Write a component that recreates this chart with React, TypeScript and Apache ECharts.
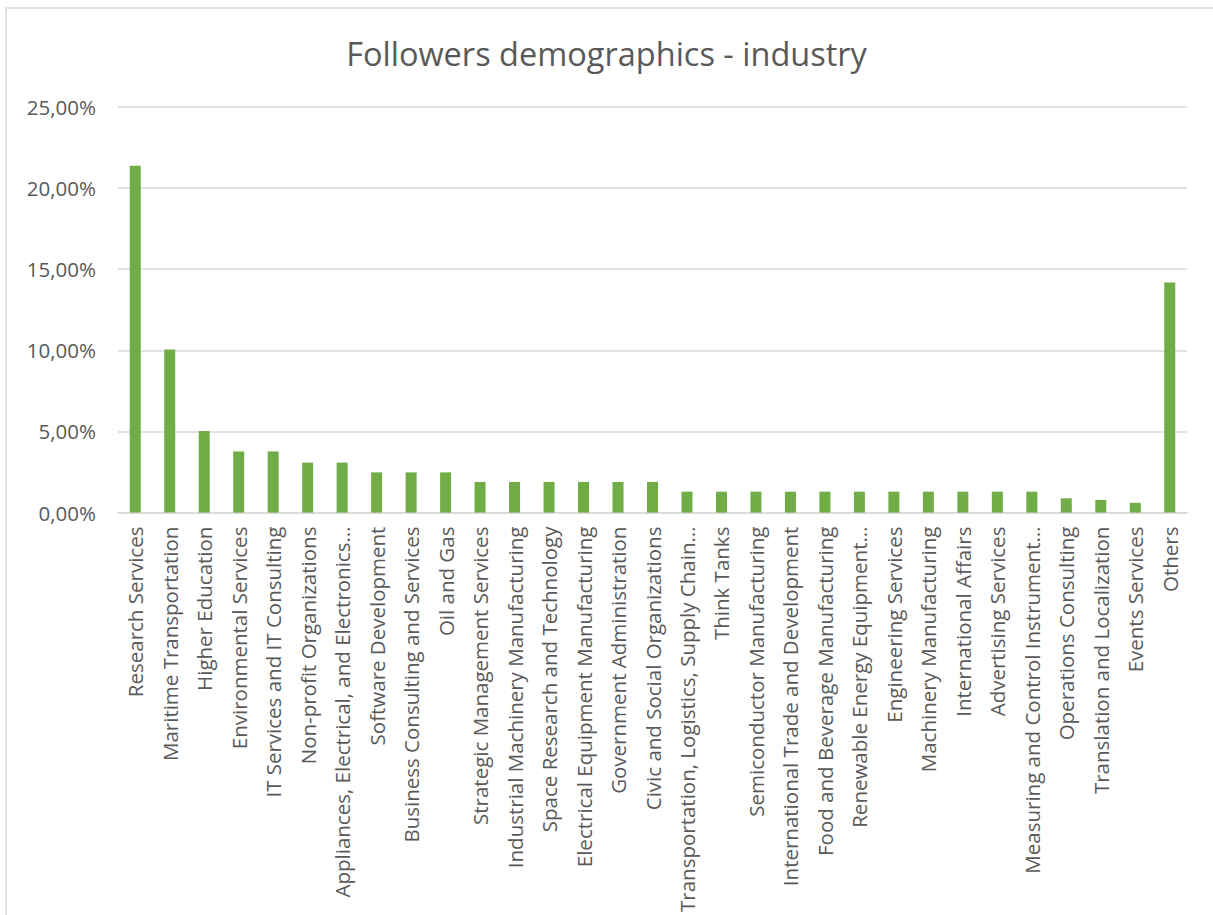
import React, { useEffect, useRef } from "react";
import * as echarts from "echarts";

const categories: string[] = [
  "Research Services",
  "Maritime Transportation",
  "Higher Education",
  "Environmental Services",
  "IT Services and IT Consulting",
  "Non-profit Organizations",
  "Appliances, Electrical, and Electronics…",
  "Software Development",
  "Business Consulting and Services",
  "Oil and Gas",
  "Strategic Management Services",
  "Industrial Machinery Manufacturing",
  "Space Research and Technology",
  "Electrical Equipment Manufacturing",
  "Government Administration",
  "Civic and Social Organizations",
  "Transportation, Logistics, Supply Chain…",
  "Think Tanks",
  "Semiconductor Manufacturing",
  "International Trade and Development",
  "Food and Beverage Manufacturing",
  "Renewable Energy Equipment…",
  "Engineering Services",
  "Machinery Manufacturing",
  "International Affairs",
  "Advertising Services",
  "Measuring and Control Instrument…",
  "Operations Consulting",
  "Translation and Localization",
  "Events Services",
  "Others",
];

const shares: number[] = [
  21.38, 10.06, 5.03, 3.77, 3.77, 3.08, 3.08, 2.48, 2.48, 2.48, 1.89, 1.89,
  1.89, 1.89, 1.89, 1.89, 1.29, 1.29, 1.29, 1.29, 1.29, 1.29, 1.29, 1.29, 1.29,
  1.29, 1.29, 0.88, 0.78, 0.6, 14.18,
];

const yTicks = { min: 0, max: 25, interval: 5 };

const TEXT = "#595959";
const GRID = "#d9d9d9";
const FONT = "'Open Sans', sans-serif";

export default function App() {
  const ref = useRef<HTMLDivElement>(null);
  useEffect(() => {
    if (!ref.current) return;
    const chart = echarts.init(ref.current, null, { renderer: "svg" });
    chart.setOption({
      animation: false,
      backgroundColor: "#ffffff",
      title: {
        text: "Followers demographics - industry",
        left: "center",
        top: 32,
        textStyle: { color: TEXT, fontFamily: FONT, fontSize: 32.5, fontWeight: "normal" },
      },
      graphic: [
        {
          type: "rect",
          shape: { x: 6, y: 8, width: 1400, height: 1100 },
          style: { fill: "none", stroke: GRID, lineWidth: 1.5 },
          silent: true,
        },
      ],
      grid: { left: 118, right: 26, top: 107, bottom: 402, containLabel: false },
      xAxis: {
        type: "category",
        data: categories,
        axisLine: { show: true, lineStyle: { color: GRID, width: 1.5 } },
        axisTick: { show: false },
        axisLabel: {
          interval: 0,
          rotate: 90,
          margin: 14,
          color: TEXT,
          fontFamily: FONT,
          fontSize: 20.5,
        },
      },
      yAxis: {
        type: "value",
        min: yTicks.min,
        max: yTicks.max,
        interval: yTicks.interval,
        axisLine: { show: false },
        axisTick: { show: false },
        splitLine: { lineStyle: { color: GRID, width: 1.5 } },
        axisLabel: {
          margin: 22,
          color: TEXT,
          fontFamily: FONT,
          fontSize: 20.5,
          formatter: (v: number) => v.toFixed(2).replace(".", ",") + "%",
        },
      },
      series: [
        {
          type: "bar",
          data: shares,
          barWidth: 11,
          itemStyle: { color: "#70ad47" },
        },
      ],
    });
    return () => chart.dispose();
  }, []);
  return (
    <div
      ref={ref}
      style={{ position: "absolute", left: 0, top: 0, width: 1213, height: 915 }}
    />
  );
}
